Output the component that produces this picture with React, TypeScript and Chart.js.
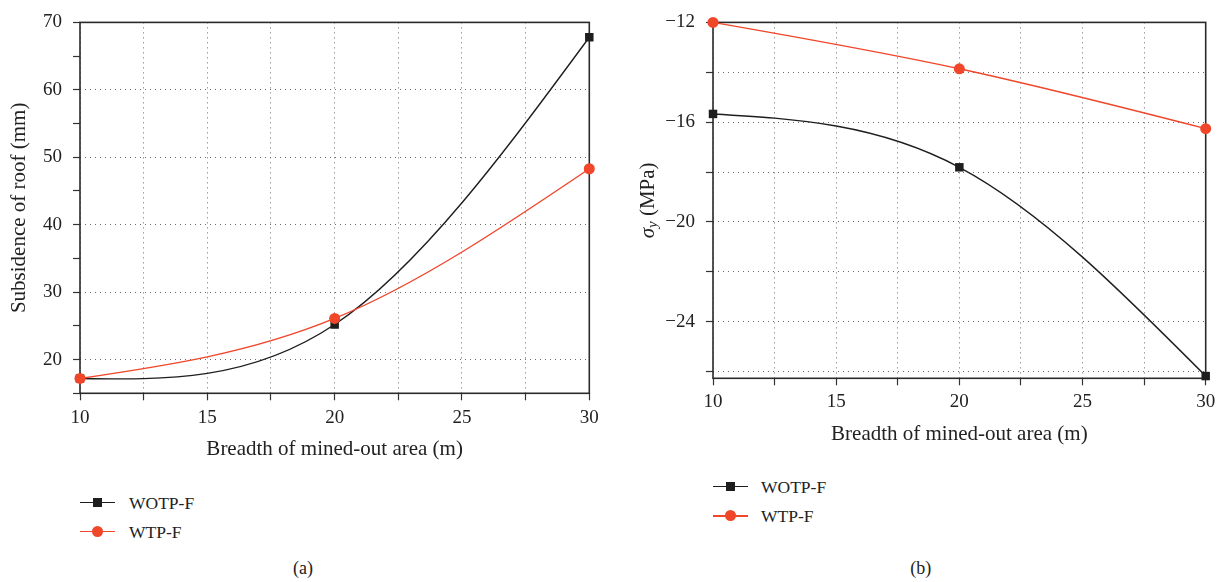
import React, { useEffect, useRef } from 'react';
import { Chart, registerables } from 'chart.js';

Chart.register(...registerables);

// ---------------- data ----------------
const breadth = [10, 20, 30];
const seriesNames = ['WOTP-F', 'WTP-F'];
const subsidenceWOTP = [17.2, 25.2, 67.8];
const subsidenceWTP = [17.2, 26.1, 48.3];
const stressWOTP = [-15.67, -17.81, -26.18];
const stressWTP = [-12.0, -13.86, -16.26];
const xLabelValues = [10, 15, 20, 25, 30];
const yLabelValuesA = [20, 30, 40, 50, 60, 70];
const yLabelValuesB = [-12, -16, -20, -24];
const xTitle = 'Breadth of mined-out area (m)';
const yTitleA = 'Subsidence of roof (mm)';
const yTitleB = ['σ', 'y', ' (MPa)'];
const panelLabels = ['(a)', '(b)'];

// ---------------- style ----------------
const BLACK = '#1e1e1e';
const RED = '#f0462a';
const GRID = '#6a6a6a';
const TICK = '#333333';
const TEXT = '#222222';
const FONT = "'Liberation Serif', 'Times New Roman', serif";
const seriesColors = [BLACK, RED];

const fmt = (v: number) => (v < 0 ? '\u2212' + Math.abs(v) : String(v));

// natural cubic spline through the library's own point elements
const naturalSpline = {
  id: 'naturalSpline',
  beforeDatasetDraw(chart: any, args: any) {
    const meta = args.meta;
    const pts = meta.data;
    const n = pts.length;
    if (n < 3) return;
    const x = pts.map((p: any) => p.x);
    const y = pts.map((p: any) => p.y);
    const h: number[] = [];
    for (let i = 0; i < n - 1; i++) h.push(x[i + 1] - x[i]);
    const a: number[] = [], b: number[] = [], c: number[] = [], d: number[] = [];
    for (let i = 1; i < n - 1; i++) {
      a.push(h[i - 1]);
      b.push(2 * (h[i - 1] + h[i]));
      c.push(h[i]);
      d.push(6 * ((y[i + 1] - y[i]) / h[i] - (y[i] - y[i - 1]) / h[i - 1]));
    }
    const m = a.length;
    for (let i = 1; i < m; i++) {
      const w = a[i] / b[i - 1];
      b[i] -= w * c[i - 1];
      d[i] -= w * d[i - 1];
    }
    const sol = new Array(m).fill(0);
    sol[m - 1] = d[m - 1] / b[m - 1];
    for (let i = m - 2; i >= 0; i--) sol[i] = (d[i] - c[i] * sol[i + 1]) / b[i];
    const M = new Array(n).fill(0);
    for (let i = 0; i < m; i++) M[i + 1] = sol[i];
    for (let i = 0; i < n - 1; i++) {
      const hi = h[i];
      const s = (y[i + 1] - y[i]) / hi;
      const d0 = s - (hi * (2 * M[i] + M[i + 1])) / 6;
      const d1 = s + (hi * (M[i] + 2 * M[i + 1])) / 6;
      pts[i].cp2x = x[i] + hi / 3;
      pts[i].cp2y = y[i] + (d0 * hi) / 3;
      pts[i + 1].cp1x = x[i + 1] - hi / 3;
      pts[i + 1].cp1y = y[i + 1] - (d1 * hi) / 3;
    }
    pts[0].cp1x = x[0];
    pts[0].cp1y = y[0];
    pts[n - 1].cp2x = x[n - 1];
    pts[n - 1].cp2y = y[n - 1];
    meta.dataset._pointsUpdated = true;
  },
};

const frame = {
  id: 'frame',
  beforeDatasetsDraw(chart: any) {
    const { ctx, chartArea } = chart;
    ctx.save();
    ctx.strokeStyle = '#2a2a2a';
    ctx.lineWidth = 1.6;
    ctx.strokeRect(chartArea.left, chartArea.top, chartArea.right - chartArea.left, chartArea.bottom - chartArea.top);
    ctx.restore();
  },
};

const sigmaTitle = {
  id: 'sigmaTitle',
  afterDraw(chart: any) {
    const { ctx, chartArea } = chart;
    const cy = (chartArea.top + chartArea.bottom) / 2;
    const parts = [
      { t: yTitleB[0], font: `italic 21px ${FONT}`, dy: 0 },
      { t: yTitleB[1], font: `italic 15px ${FONT}`, dy: 5 },
      { t: yTitleB[2], font: `21px ${FONT}`, dy: 0 },
    ];
    ctx.save();
    ctx.translate(18, cy);
    ctx.rotate(-Math.PI / 2);
    ctx.textBaseline = 'middle';
    ctx.fillStyle = TEXT;
    let total = 0;
    const widths = parts.map((p) => {
      ctx.font = p.font;
      const w = ctx.measureText(p.t).width;
      total += w;
      return w;
    });
    let px = -total / 2;
    parts.forEach((p, i) => {
      ctx.font = p.font;
      ctx.fillText(p.t, px, p.dy);
      px += widths[i];
    });
    ctx.restore();
  },
};

type PanelOpts = {
  ys: number[][];
  yMin: number;
  yMax: number;
  yStep: number;
  yLabels: number[];
  yGridAll: boolean;
  yTitle: string | null;
  yWidth: number;
  xHeight: number;
  xTickPad: number;
  xTitlePadBottom: number;
  padTop: number;
  padRight: number;
  extraPlugins: any[];
};

function buildConfig(o: PanelOpts): any {
  const datasets = o.ys.map((vals, si) => ({
    label: seriesNames[si],
    data: breadth.map((x, i) => ({ x, y: vals[i] })),
    borderColor: seriesColors[si],
    backgroundColor: seriesColors[si],
    pointBackgroundColor: seriesColors[si],
    pointBorderColor: seriesColors[si],
    pointBorderWidth: 0,
    pointStyle: si === 0 ? 'rect' : 'circle',
    pointRadius: si === 0 ? 6 : 5.5,
    borderWidth: 1.4,
    tension: 0.4,
    order: si === 0 ? 1 : 0,
    clip: false,
  }));
  return {
    type: 'line',
    data: { datasets },
    plugins: [frame, naturalSpline, ...o.extraPlugins],
    options: {
      responsive: false,
      maintainAspectRatio: false,
      animation: false,
      events: [],
      layout: { padding: { left: 0, top: o.padTop, right: o.padRight, bottom: 0 } },
      plugins: { legend: { display: false }, tooltip: { enabled: false } },
      scales: {
        x: {
          type: 'linear',
          min: 10,
          max: 30,
          afterFit: (s: any) => {
            s.height = o.xHeight;
          },
          ticks: {
            stepSize: 2.5,
            autoSkip: false,
            maxRotation: 0,
            includeBounds: false,
            padding: o.xTickPad,
            color: TEXT,
            font: { family: FONT, size: 19 },
            callback: (v: number) => (xLabelValues.includes(v) ? fmt(v) : ''),
          },
          grid: { color: GRID, lineWidth: 1, tickLength: 7, tickColor: TICK, tickWidth: 1.2 },
          border: { display: false, dash: [1, 4] },
          title: {
            display: true,
            text: xTitle,
            color: TEXT,
            font: { family: FONT, size: 21 },
            padding: { top: 0, bottom: o.xTitlePadBottom },
          },
        },
        y: {
          type: 'linear',
          min: o.yMin,
          max: o.yMax,
          afterFit: (s: any) => {
            s.width = o.yWidth;
          },
          ticks: {
            stepSize: o.yStep,
            autoSkip: false,
            includeBounds: false,
            padding: 11,
            color: TEXT,
            font: { family: FONT, size: 19 },
            callback: (v: number) => (o.yLabels.includes(v) ? fmt(v) : ''),
          },
          grid: {
            color: (ctx: any) =>
              o.yGridAll || (ctx.tick && o.yLabels.includes(ctx.tick.value)) ? GRID : 'rgba(0,0,0,0)',
            lineWidth: 1,
            tickLength: 7,
            tickColor: TICK,
            tickWidth: 1.2,
          },
          border: { display: false, dash: [1, 4] },
          title: {
            display: !!o.yTitle,
            text: o.yTitle || '',
            color: TEXT,
            font: { family: FONT, size: 21 },
            padding: { top: 7, bottom: 0 },
          },
        },
      },
    },
  };
}

function ChartCanvas(props: { left: number; top: number; width: number; height: number; opts: PanelOpts }) {
  const ref = useRef<HTMLCanvasElement | null>(null);
  useEffect(() => {
    if (!ref.current) return;
    const chart = new Chart(ref.current, buildConfig(props.opts));
    return () => chart.destroy();
  }, []);
  return (
    <canvas
      ref={ref}
      width={props.width}
      height={props.height}
      style={{ position: 'absolute', left: props.left, top: props.top, width: props.width, height: props.height }}
    />
  );
}

function Legend(props: { left: number; top: number; gap: number; textOffset: number }) {
  return (
    <div style={{ position: 'absolute', left: props.left, top: props.top }}>
      {seriesNames.map((name, i) => (
        <div key={name} style={{ position: 'absolute', left: 0, top: i * props.gap, height: 0 }}>
          <div
            style={{ position: 'absolute', left: 0, top: -0.7, width: 35, height: 1.4, background: seriesColors[i] }}
          />
          {i === 0 ? (
            <div
              style={{ position: 'absolute', left: 17.5 - 4.25, top: -4.25, width: 8.5, height: 8.5, background: seriesColors[i] }}
            />
          ) : (
            <div
              style={{
                position: 'absolute',
                left: 17.5 - 5.5,
                top: -5.5,
                width: 11,
                height: 11,
                borderRadius: '50%',
                background: seriesColors[i],
              }}
            />
          )}
          <div
            style={{
              position: 'absolute',
              left: props.textOffset,
              top: -10,
              height: 20,
              lineHeight: '20px',
              fontFamily: FONT,
              fontSize: 17.5,
              color: TEXT,
              whiteSpace: 'nowrap',
            }}
          >
            {name}
          </div>
        </div>
      ))}
    </div>
  );
}

function Caption(props: { x: number; y: number; text: string }) {
  return (
    <div
      style={{
        position: 'absolute',
        left: props.x,
        top: props.y,
        transform: 'translate(-50%, -50%)',
        fontFamily: FONT,
        fontSize: 18,
        lineHeight: '20px',
        color: TEXT,
        whiteSpace: 'nowrap',
      }}
    >
      {props.text}
    </div>
  );
}

const panelA: PanelOpts = {
  ys: [subsidenceWOTP, subsidenceWTP],
  yMin: 15,
  yMax: 70,
  yStep: 5,
  yLabels: yLabelValuesA,
  yGridAll: false,
  yTitle: yTitleA,
  yWidth: 80,
  xHeight: 86.7,
  xTickPad: 6,
  xTitlePadBottom: 18.4,
  padTop: 15.7,
  padRight: 20.7,
  extraPlugins: [],
};

const panelB: PanelOpts = {
  ys: [stressWOTP, stressWTP],
  yMin: -26.27,
  yMax: -12,
  yStep: 2,
  yLabels: yLabelValuesB,
  yGridAll: true,
  yTitle: null,
  yWidth: 83,
  xHeight: 91.7,
  xTickPad: 5,
  xTitlePadBottom: 23.4,
  padTop: 13.3,
  padRight: 15.3,
  extraPlugins: [sigmaTitle],
};

export default function App() {
  return (
    <div style={{ position: 'absolute', left: 0, top: 0, width: 1221, height: 582, background: '#fff', overflow: 'hidden' }}>
      <ChartCanvas left={0} top={0} width={610} height={480} opts={panelA} />
      <ChartCanvas left={630} top={0} width={591} height={470} opts={panelB} />
      <Legend left={80} top={502.7} gap={29} textOffset={49} />
      <Legend left={713} top={486.7} gap={29.3} textOffset={48} />
      <Caption x={303} y={568} text={panelLabels[0]} />
      <Caption x={920.7} y={568} text={panelLabels[1]} />
    </div>
  );
}
